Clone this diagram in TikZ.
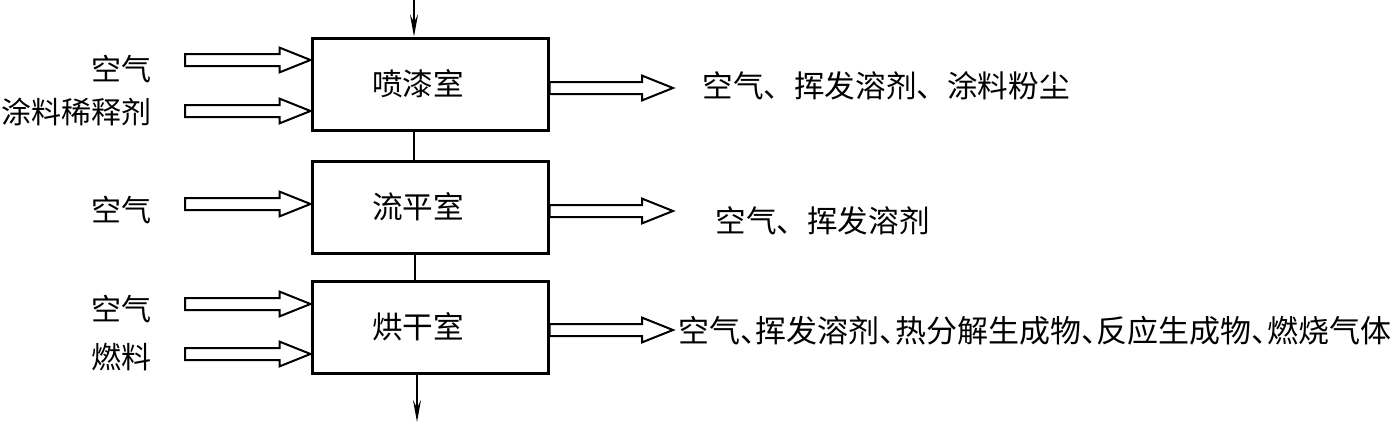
\documentclass[tikz,border=0pt]{standalone}
\usepackage{fontspec}
\setmainfont{Noto Sans CJK SC}
\usepackage{tikz}
\usetikzlibrary{arrows.meta,calc}
\newcommand{\halfdun}{\makebox[.5em][l]{、}}

\begin{document}
\begin{tikzpicture}[x=0.5pt, y=-0.5pt,
      every node/.append style={inner sep=0pt, text height=11.4pt, text depth=0pt},
      room/.style={draw, line width=1.5pt, minimum width=118pt, minimum height=46pt},
      boxtxt/.style={font=\fontsize{15.3pt}{18pt}\selectfont, xshift=-6pt},
      hollow/.style={line width=1pt, line join=miter, to path={
        let \p1=(\tikztostart), \p2=(\tikztotarget) in
        (\x1,\y1+3pt) -- (\x2-15.5pt,\y1+3pt) -- (\x2-15.5pt,\y1+6.2pt) -- (\x2,\y1)
        -- (\x2-15.5pt,\y1-6.2pt) -- (\x2-15.5pt,\y1-3pt) -- (\x1,\y1-3pt) -- cycle}},
      flow/.style={line width=0.75pt, -{Stealth[length=11pt, width=4pt, inset=4pt]}}]
    \tikzstyle{word} = [font=\fontsize{15pt}{18pt}\selectfont]
    \tikzstyle{product} = [font=\fontsize{15.3pt}{18pt}\selectfont, anchor=west]
    \useasboundingbox (0,0) rectangle (1393,424);

    \node[room, label={[boxtxt]center:喷漆室}] (spray) at (430,84) {};
    \node[room, label={[boxtxt]center:流平室}] (level) at (430,207) {};
    \node[room, label={[boxtxt]center:烘干室}] (dry) at (430,327.5) {};

    \coordinate (feed) at (414,0);
    \coordinate (link) at (415,0);
    \coordinate (exit) at (417,422);
    \draw[flow] (feed) -- (spray.north -| feed);
    \draw[line width=0.75pt] (spray.south -| feed) -- (level.north -| feed);
    \draw[line width=0.75pt] (level.south -| link) -- (dry.north -| link);
    \draw[flow] (dry.south -| exit) -- (exit);

    \node[word, anchor=east] (air1) at (152,69) {空气};
    \node[word, anchor=east] (thin) at (152,112) {涂料稀释剂};
    \node[word, anchor=east] (air2) at (152,210) {空气};
    \node[word, anchor=east] (air3) at (152,309) {空气};
    \node[word, anchor=east] (fuel) at (152,357) {燃料};

    \coordinate (in1) at (185,60);
    \coordinate (in2) at (185,111);
    \coordinate (in3) at (185,204);
    \coordinate (in4) at (185,304);
    \coordinate (in5) at (185,354);
    \draw[hollow] (in1) to (spray.west |- in1);
    \draw[hollow] (in2) to (spray.west |- in2);
    \draw[hollow] (in3) to (level.west |- in3);
    \draw[hollow] (in4) to (dry.west |- in4);
    \draw[hollow] (in5) to (dry.west |- in5);

    \coordinate (tip1) at (673,88);
    \coordinate (tip2) at (673,211);
    \coordinate (tip3) at (673,330);
    \draw[hollow] (spray.east |- tip1) to (tip1);
    \draw[hollow] (level.east |- tip2) to (tip2);
    \draw[hollow] (dry.east |- tip3) to (tip3);

    \node[product] (gas1) at (702,86) {空气、挥发溶剂、涂料粉尘};
    \node[product] (gas2) at (715,221) {空气、挥发溶剂};
    \node[product, font=\fontsize{15.5pt}{18pt}\selectfont] (gas3) at (678,331)
      {空气\halfdun 挥发溶剂\halfdun 热分解生成物\halfdun 反应生成物\halfdun 燃烧气体};
\end{tikzpicture}
\end{document}
